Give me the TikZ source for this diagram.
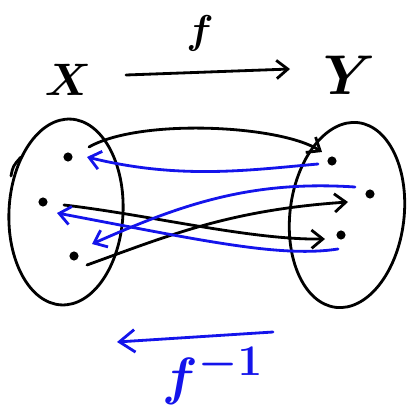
\documentclass[tikz,border=0pt]{standalone}
\usepackage{amsmath}
\usepackage{graphicx}
\usetikzlibrary{arrows.meta, shapes.geometric}
\definecolor{penblue}{RGB}{20,20,235}
\begin{document}
\begin{tikzpicture}[x=0.025cm, y=-0.025cm, line cap=round, line join=round,
  pen/.style={line width=2pt},
  fmap/.style={pen, black, -{Straight Barb[length=8pt, width=13pt, line width=2pt]}},
  finv/.style={pen, penblue, -{Straight Barb[length=8pt, width=13pt, line width=2pt]}},
  dot/.style={circle, fill, inner sep=0pt, minimum size=6.5pt},
  setbox/.style={draw, pen, ellipse, inner sep=0pt, minimum width=2.85cm, minimum height=4.65cm},
  lbl/.style={inner sep=0pt, font=\Huge}]
  \useasboundingbox (0,0) rectangle (408,416);

  % the two sets
  \node[setbox, rotate=-3] (setX) at (66,212) {};
  \node[setbox, rotate=-7] (setY) at (347,215) {};
  \draw[pen] (11,176) .. controls (13,166) .. (21,157);

  % labels
  \node[lbl] (labX) at (68,80) {\scalebox{1.3}{$\boldsymbol{X}$}};
  \node[lbl] (labY) at (350,75) {\scalebox{1.6}{$\boldsymbol{Y}$}};
  \node[lbl] (labf) at (200,33) {\scalebox{1.15}{$\boldsymbol{f}$}};
  \node[lbl, penblue] (labfinv) at (213,376) {\scalebox{1.5}{$\boldsymbol{f^{-1}}$}};

  % elements of X and Y
  \node[dot] (x1) at (68,157) {};
  \node[dot] (x2) at (43,202) {};
  \node[dot] (x3) at (74,256) {};
  \node[dot] (y1) at (332,161) {};
  \node[dot] (y2) at (370,194) {};
  \node[dot] (y3) at (341,235) {};

  % arrow ends
  \coordinate (fs) at (126,75);
  \coordinate (fe) at (290,69);
  \coordinate (gs) at (273,332);
  \coordinate (ge) at (117,342);
  \coordinate (f1s) at (89,147);
  \coordinate (f1e) at (322,152);
  \coordinate (f2s) at (64,205);
  \coordinate (f2e) at (325,239);
  \coordinate (f3s) at (87,265);
  \coordinate (f3e) at (348,202);
  \coordinate (g1s) at (318,164);
  \coordinate (g1e) at (87,157);
  \coordinate (g2s) at (355,187);
  \coordinate (g2e) at (92,244);
  \coordinate (g3s) at (338,249);
  \coordinate (g3e) at (57,213);

  % f and its inverse
  \draw[fmap] (fs) -- (fe);
  \draw[finv, -{Straight Barb[length=11pt, width=16pt, line width=2pt]}] (gs) -- (ge);

  % f on the elements
  \draw[fmap] (f1s) .. controls (140,118) and (280,125) .. (f1e);
  \draw[fmap] (f2s) .. controls (150,215) and (250,240) .. (f2e);
  \draw[fmap] (f3s) .. controls (170,235) and (230,210) .. (f3e);

  % inverse on the elements
  \draw[finv] (g1s) .. controls (250,170) and (180,180) .. (g1e);
  \draw[finv] (g2s) .. controls (250,180) and (180,205) .. (g2e);
  \draw[finv] (g3s) .. controls (280,258) and (200,240) .. (g3e);
\end{tikzpicture}
\end{document}
